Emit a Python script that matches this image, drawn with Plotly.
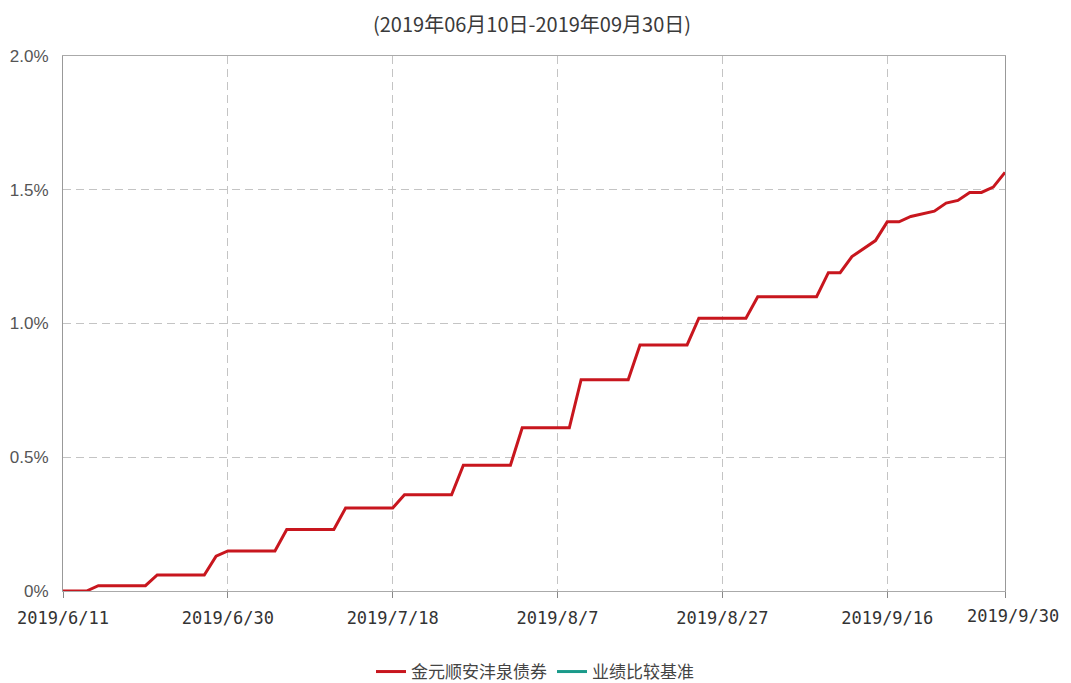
import plotly.graph_objects as go

dates = [
    "2019/6/11", "2019/6/12", "2019/6/13", "2019/6/14", "2019/6/17", "2019/6/18", "2019/6/19",
    "2019/6/20", "2019/6/21", "2019/6/24", "2019/6/25", "2019/6/26", "2019/6/27", "2019/6/28",
    "2019/6/30",
    "2019/7/1", "2019/7/2", "2019/7/3", "2019/7/4", "2019/7/5", "2019/7/8", "2019/7/9",
    "2019/7/10", "2019/7/11", "2019/7/12", "2019/7/15", "2019/7/16", "2019/7/17", "2019/7/18",
    "2019/7/19", "2019/7/22", "2019/7/23", "2019/7/24", "2019/7/25", "2019/7/26", "2019/7/29",
    "2019/7/30", "2019/7/31",
    "2019/8/1", "2019/8/2", "2019/8/5", "2019/8/6", "2019/8/7", "2019/8/8", "2019/8/9",
    "2019/8/12", "2019/8/13", "2019/8/14", "2019/8/15", "2019/8/16", "2019/8/19", "2019/8/20",
    "2019/8/21", "2019/8/22", "2019/8/23", "2019/8/26", "2019/8/27", "2019/8/28", "2019/8/29",
    "2019/8/30", "2019/8/31",
    "2019/9/2", "2019/9/3", "2019/9/4", "2019/9/5", "2019/9/6", "2019/9/9", "2019/9/10",
    "2019/9/11", "2019/9/12", "2019/9/16", "2019/9/17", "2019/9/18", "2019/9/19", "2019/9/20",
    "2019/9/23", "2019/9/24", "2019/9/25", "2019/9/26", "2019/9/27", "2019/9/30",
]

fund_returns = [
    0.00, 0.00, 0.00, 0.02, 0.02, 0.02, 0.02, 0.02, 0.06, 0.06, 0.06, 0.06, 0.06, 0.13,
    0.15,
    0.15, 0.15, 0.15, 0.15, 0.23, 0.23, 0.23, 0.23, 0.23, 0.31, 0.31, 0.31, 0.31, 0.31,
    0.36, 0.36, 0.36, 0.36, 0.36, 0.47, 0.47, 0.47, 0.47,
    0.47, 0.61, 0.61, 0.61, 0.61, 0.61, 0.79, 0.79, 0.79, 0.79, 0.79, 0.92, 0.92, 0.92,
    0.92, 0.92, 1.02, 1.02, 1.02, 1.02, 1.02, 1.10, 1.10,
    1.10, 1.10, 1.10, 1.10, 1.19, 1.19, 1.25, 1.28, 1.31, 1.38, 1.38, 1.40, 1.41, 1.42,
    1.45, 1.46, 1.49, 1.49, 1.51, 1.565,
]

# benchmark series is listed in the legend but draws no visible line
benchmark_returns = [None] * len(dates)

tick_labels = ["2019/6/11", "2019/6/30", "2019/7/18", "2019/8/7", "2019/8/27", "2019/9/16", "2019/9/30"]
y_ticks = [0, 0.5, 1.0, 1.5, 2.0]
y_tick_text = ["0%", "0.5%", "1.0%", "1.5%", "2.0%"]

title_text = "(2019年06月10日-2019年09月30日)"
fund_name = "金元顺安沣泉债券"
bench_name = "业绩比较基准"

W, H = 1063, 675  # page body has an 8px margin

fig = go.Figure()
fig.add_trace(go.Scatter(
    x=dates, y=fund_returns, mode="lines", name=fund_name,
    line=dict(color="#c8161e", width=3), hoverinfo="skip",
))
fig.add_trace(go.Scatter(
    x=dates, y=benchmark_returns, mode="lines",
    name=bench_name, line=dict(color="#1a9a8a", width=3),
))

cjk = "Noto Sans CJK SC, sans-serif"
xfont = "DejaVu Sans Mono, monospace"
yfont = "Liberation Sans, Arial, sans-serif"

ticktext = tick_labels[:-1] + [""]

fig.update_layout(
    width=W, height=H,
    margin=dict(l=55, r=66, t=48, b=92),
    paper_bgcolor="white", plot_bgcolor="white",
    title=dict(text=title_text, x=524 / W, xanchor="center", xref="container",
               y=1 - 17 / H, yref="container", yanchor="middle",
               font=dict(family=cjk, size=20, color="#3a3a3a")),
    showlegend=True,
    legend=dict(orientation="h", x=527 / W, xanchor="center", xref="container",
                y=1 - 664 / H, yref="container", yanchor="middle",
                font=dict(family=cjk, size=17, color="#444"),
                itemwidth=30, tracegroupgap=0),
    xaxis=dict(
        type="category", range=[0, len(dates) - 1], automargin=False,
        tickmode="array", tickvals=tick_labels, ticktext=ticktext,
        ticks="outside", ticklen=6, tickcolor="#888",
        tickfont=dict(family=xfont, size=17, color="#333"),
        ticklabelstandoff=6,
        showgrid=True, gridcolor="#c4c4c4", griddash="8px,5px", gridwidth=1,
        showline=True, linecolor="#aaaaaa", linewidth=1, mirror=True,
        zeroline=False,
    ),
    yaxis=dict(
        range=[0, 2.0], tickmode="array", tickvals=y_ticks, ticktext=y_tick_text,
        automargin=False,
        ticks="", tickfont=dict(family=yfont, size=17, color="#555"),
        showgrid=True, gridcolor="#c4c4c4", griddash="8px,5px", gridwidth=1,
        showline=True, linecolor="#999999", linewidth=1, mirror=True,
        zeroline=False, ticklabelstandoff=10,
    ),
    annotations=[dict(
        x=tick_labels[-1], y=0, xref="x", yref="y", text=tick_labels[-1],
        showarrow=False, xanchor="center", yanchor="middle",
        xshift=8, yshift=-25,
        font=dict(family=xfont, size=17, color="#333"),
    )],
)

fig.write_html("out.html")
